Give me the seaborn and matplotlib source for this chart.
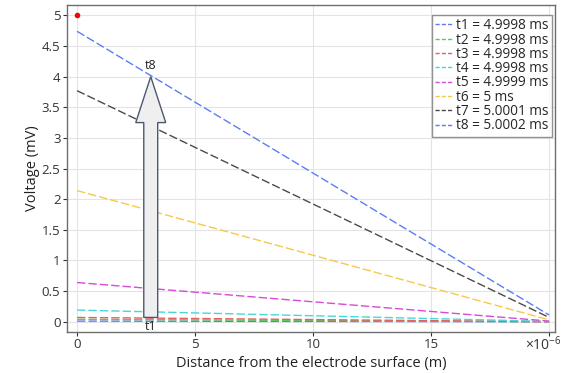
import numpy as np
import pandas as pd
import seaborn as sns
import matplotlib
matplotlib.use("Agg")
import matplotlib.pyplot as plt
from matplotlib.patches import FancyArrow
from matplotlib.lines import Line2D

# Potential profiles across the diffusion layer at successive times
distance = [0.0, 20e-6]  # m
labels = ["t1 = 4.9998 ms", "t2 = 4.9998 ms", "t3 = 4.9998 ms", "t4 = 4.9998 ms",
          "t5 = 4.9999 ms", "t6 = 5 ms", "t7 = 5.0001 ms", "t8 = 5.0002 ms"]
v_start = [0.01, 0.04, 0.07, 0.19, 0.64, 2.14, 3.77, 4.74]   # mV at the surface
v_end = [0.0, 0.0, 0.0, 0.005, 0.01, 0.03, 0.07, 0.11]       # mV at 20 um
colors = ["#5b7cf5", "#5cc95c", "#e8605c", "#45d8d8", "#d84ad8", "#f7c84a", "#4a4a4a", "#5b7cf5"]

# Applied potential at the electrode
surface_x = [0.0]
surface_v = [5.0]

# Time arrow from t1 to t8
arrow_x = 3.12e-6
arrow_y0 = 0.07
arrow_y1 = 4.0

x_ticks = [0, 5e-6, 10e-6, 15e-6, 20e-6]
x_ticklabels = ["0", "5", "10", "15", ""]
y_ticks = np.arange(0, 5.01, 0.5)
y_ticklabels = ["0", "0.5", "1", "1.5", "2", "2.5", "3", "3.5", "4", "4.5", "5"]

rows = []
for lab, a, b in zip(labels, v_start, v_end):
    rows.append({"x": distance[0], "v": a, "series": lab})
    rows.append({"x": distance[1], "v": b, "series": lab})
df = pd.DataFrame(rows)

sns.set_theme(style="white")
plt.rcParams["font.family"] = ["Open Sans", "DejaVu Sans"]
plt.rcParams["mathtext.fontset"] = "custom"
plt.rcParams["mathtext.rm"] = "Open Sans"
plt.rcParams["mathtext.it"] = "Open Sans"

fig = plt.figure(figsize=(5.63, 3.73), dpi=100)
ax = fig.add_axes([0.1185, 0.1107, 0.9858 - 0.1185, 0.9866 - 0.1107])

sns.lineplot(data=df, x="x", y="v", hue="series", style="series",
             palette=dict(zip(labels, colors)),
             dashes={lab: (6, 2.2) for lab in labels},
             linewidth=1.0, legend=False, ax=ax)

ax.plot(surface_x, surface_v, "o", color="red", markersize=3, zorder=5)

# Arrow
body_w = 0.59e-6
head_w = 1.27e-6
head_l = 0.75
arr = FancyArrow(arrow_x, arrow_y0, 0, arrow_y1 - arrow_y0, width=body_w,
                 head_width=head_w, head_length=head_l, length_includes_head=True,
                 facecolor="#efefef", edgecolor="#4d5870", linewidth=1.0, zorder=4)
ax.add_patch(arr)
ax.text(arrow_x, arrow_y1 + 0.08, "t8", ha="center", va="bottom", fontsize=9, color="#222222")
ax.text(arrow_x, arrow_y0 - 0.05, "t1", ha="center", va="top", fontsize=9, color="#222222")

ax.set_xlim(-0.44e-6, 20.25e-6)
ax.set_ylim(-0.163, 5.169)
ax.set_xticks(x_ticks)
ax.set_xticklabels(x_ticklabels)
ax.set_yticks(y_ticks)
ax.set_yticklabels(y_ticklabels)
ax.grid(True, color="#e4e4e4", linewidth=0.8)
ax.set_axisbelow(True)
ax.tick_params(axis="both", labelsize=9.5, colors="#333333", length=3, width=0.8,
               direction="out", bottom=True, left=True, pad=1.5)
for s in ax.spines.values():
    s.set_color("#6e6e6e")
    s.set_linewidth(1.0)

# Axis scale factor in place of the last tick label
ax.annotate(r"$\times$10$^{-6}$", xy=(x_ticks[-1], 0), xycoords=("data", "axes fraction"),
            xytext=(9, -3), textcoords="offset points", ha="right", va="top",
            fontsize=10, color="#333333", annotation_clip=False)

ax.set_xlabel("Distance from the electrode surface (m)", fontsize=10.5, color="#222222", labelpad=3.5)
ax.set_ylabel("Voltage (mV)", fontsize=10.5, color="#222222", labelpad=1)

handles = [Line2D([0], [0], color=c, lw=1.0, dashes=(3, 1.5)) for c in colors]
leg = ax.legend(handles, labels, loc="upper right", bbox_to_anchor=(0.994, 0.970),
                fontsize=9.8, frameon=True, fancybox=False, handlelength=1.3,
                handletextpad=0.25, labelspacing=-0.05, borderpad=0.25, borderaxespad=0.0)
leg.get_frame().set_edgecolor("#777777")
leg.get_frame().set_linewidth(1.0)

fig.savefig("out.png", dpi=100)
